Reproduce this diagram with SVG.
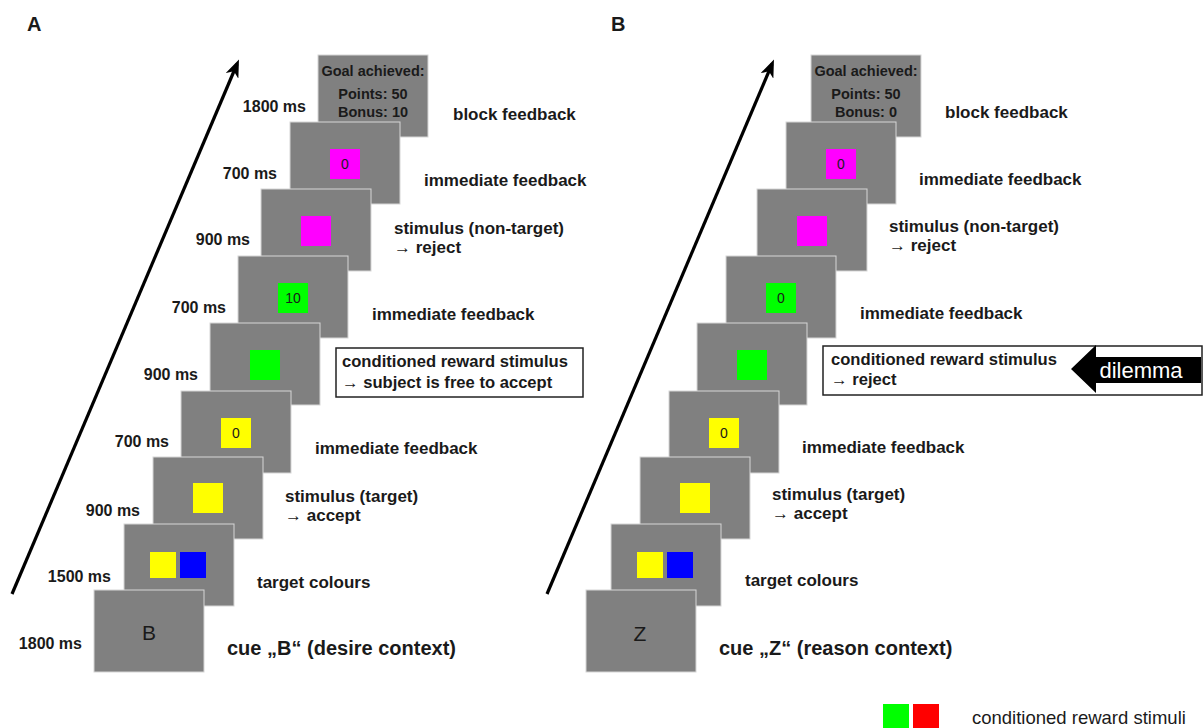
<svg xmlns="http://www.w3.org/2000/svg" width="1204" height="728" viewBox="0 0 1204 728">
<defs>
<style>
.fr{fill:#808080;stroke:#d6d6d6;stroke-width:1}
.t{font-family:"Liberation Sans",Arial,sans-serif;fill:#1a1a1a}
.ms{font-size:16px;font-weight:bold;text-anchor:end}
.lb{font-size:17px;font-weight:bold}
.bx{font-size:16.6px;font-weight:bold}
.cue{font-size:20px;font-weight:bold}
.num{font-size:14px;text-anchor:middle}
.goal{font-size:14.5px;font-weight:bold;text-anchor:middle}
.big{font-size:21px;text-anchor:middle}
.mg{fill:#ff00ff}.gr{fill:#00ff00}.ye{fill:#ffff00}.bl{fill:#0000ff}.rd{fill:#ff0000}
.box{fill:#fff;stroke:#222;stroke-width:1.5}
.tl{stroke:#000;stroke-width:3.2;fill:none;marker-end:url(#ah)}
</style>
<marker id="ah" viewBox="0 0 18 14" refX="13" refY="7" markerWidth="18" markerHeight="14" orient="auto" markerUnits="userSpaceOnUse">
<path d="M0,0 L18,7 L0,14 L5,7 z" fill="#000"/>
</marker>
</defs>
<rect width="1204" height="728" fill="#fff"/>

<text class="t" x="27" y="31" font-size="20" font-weight="bold">A</text>
<text class="t" x="611" y="31" font-size="20" font-weight="bold">B</text>

<g id="connectors">
<line class="tl" x1="12" y1="594" x2="237" y2="64"/>
<line class="tl" x1="547" y1="594" x2="772" y2="64"/>
</g>

<!-- Panel A -->
<g id="A1">
<rect class="fr" x="318" y="55" width="110" height="82"/>
<text class="t goal" x="373" y="76">Goal achieved:</text>
<text class="t goal" x="373" y="99">Points: 50</text>
<text class="t goal" x="373" y="117">Bonus: 10</text>
<text class="t ms" x="306" y="112">1800 ms</text>
<text class="t lb" x="453" y="120">block feedback</text>
</g>
<g id="A2">
<rect class="fr" x="290" y="122" width="110" height="82"/>
<rect class="mg" x="330" y="149" width="30" height="30"/>
<text class="t num" x="345" y="169">0</text>
<text class="t ms" x="277" y="179">700 ms</text>
<text class="t lb" x="424" y="186">immediate feedback</text>
</g>
<g id="A3">
<rect class="fr" x="261" y="189" width="110" height="82"/>
<rect class="mg" x="301" y="216" width="30" height="30"/>
<text class="t ms" x="250" y="245">900 ms</text>
<text class="t lb" x="394" y="234">stimulus (non-target)</text>
<text class="t lb" x="394" y="253">→ reject</text>
</g>
<g id="A4">
<rect class="fr" x="238" y="256" width="110" height="82"/>
<rect class="gr" x="278" y="283" width="30" height="30"/>
<text class="t num" x="293" y="303">10</text>
<text class="t ms" x="226" y="313">700 ms</text>
<text class="t lb" x="372" y="320">immediate feedback</text>
</g>
<g id="A5">
<rect class="fr" x="210" y="323" width="110" height="82"/>
<rect class="gr" x="250" y="350" width="30" height="30"/>
<text class="t ms" x="198" y="380">900 ms</text>
<rect class="box" x="336" y="348" width="247" height="49"/>
<text class="t bx" x="342" y="367">conditioned reward stimulus</text>
<text class="t bx" x="342" y="388">→ subject is free to accept</text>
</g>
<g id="A6">
<rect class="fr" x="181" y="391" width="110" height="82"/>
<rect class="ye" x="221" y="418" width="30" height="30"/>
<text class="t num" x="236" y="438">0</text>
<text class="t ms" x="169" y="447">700 ms</text>
<text class="t lb" x="315" y="454">immediate feedback</text>
</g>
<g id="A7">
<rect class="fr" x="153" y="457" width="110" height="82"/>
<rect class="ye" x="193" y="483" width="30" height="30"/>
<text class="t ms" x="140" y="516">900 ms</text>
<text class="t lb" x="285" y="502">stimulus (target)</text>
<text class="t lb" x="285" y="521">→ accept</text>
</g>
<g id="A8">
<rect class="fr" x="124" y="524" width="110" height="82"/>
<rect class="ye" x="150" y="552" width="26" height="26"/>
<rect class="bl" x="180" y="552" width="26" height="26"/>
<text class="t ms" x="111" y="582">1500 ms</text>
<text class="t lb" x="257" y="588">target colours</text>
</g>
<g id="A9">
<rect class="fr" x="94" y="590" width="110" height="82"/>
<text class="t big" x="149" y="640">B</text>
<text class="t ms" x="82" y="649">1800 ms</text>
<text class="t cue" x="227" y="655">cue „B“ (desire context)</text>
</g>

<!-- Panel B -->
<g id="B1">
<rect class="fr" x="811" y="55" width="110" height="82"/>
<text class="t goal" x="866" y="76">Goal achieved:</text>
<text class="t goal" x="866" y="99">Points: 50</text>
<text class="t goal" x="866" y="117">Bonus: 0</text>
<text class="t lb" x="945" y="118">block feedback</text>
</g>
<g id="B2">
<rect class="fr" x="786" y="122" width="110" height="82"/>
<rect class="mg" x="826" y="149" width="30" height="30"/>
<text class="t num" x="841" y="169">0</text>
<text class="t lb" x="919" y="185">immediate feedback</text>
</g>
<g id="B3">
<rect class="fr" x="757" y="189" width="110" height="82"/>
<rect class="mg" x="797" y="216" width="30" height="30"/>
<text class="t lb" x="889" y="232">stimulus (non-target)</text>
<text class="t lb" x="889" y="251">→ reject</text>
</g>
<g id="B4">
<rect class="fr" x="726" y="256" width="110" height="82"/>
<rect class="gr" x="766" y="283" width="30" height="30"/>
<text class="t num" x="781" y="303">0</text>
<text class="t lb" x="860" y="319">immediate feedback</text>
</g>
<g id="B5">
<rect class="fr" x="697" y="323" width="110" height="82"/>
<rect class="gr" x="737" y="350" width="30" height="30"/>
<rect class="box" x="823" y="346" width="379" height="49"/>
<text class="t bx" x="831" y="365">conditioned reward stimulus</text>
<text class="t bx" x="831" y="385">→ reject</text>
<polygon points="1071,369 1096,345 1096,357 1201,357 1201,383 1096,383 1096,393" fill="#000"/>
<text x="1141" y="378" font-family="'Liberation Sans',Arial,sans-serif" font-size="22" fill="#fff" text-anchor="middle">dilemma</text>
</g>
<g id="B6">
<rect class="fr" x="669" y="391" width="110" height="82"/>
<rect class="ye" x="709" y="418" width="30" height="30"/>
<text class="t num" x="724" y="438">0</text>
<text class="t lb" x="802" y="453">immediate feedback</text>
</g>
<g id="B7">
<rect class="fr" x="640" y="457" width="110" height="82"/>
<rect class="ye" x="680" y="483" width="30" height="30"/>
<text class="t lb" x="772" y="500">stimulus (target)</text>
<text class="t lb" x="772" y="519">→ accept</text>
</g>
<g id="B8">
<rect class="fr" x="611" y="524" width="110" height="82"/>
<rect class="ye" x="637" y="552" width="26" height="26"/>
<rect class="bl" x="667" y="552" width="26" height="26"/>
<text class="t lb" x="745" y="586">target colours</text>
</g>
<g id="B9">
<rect class="fr" x="586" y="590" width="110" height="82"/>
<text class="t big" x="640" y="641">Z</text>
<text class="t cue" x="719" y="655">cue „Z“ (reason context)</text>
</g>

<g id="legend">
<rect class="gr" x="883" y="704" width="26" height="24"/>
<rect class="rd" x="913" y="704" width="26" height="24"/>
<text class="t" x="972" y="724" font-size="18.5" fill="#222">conditioned reward stimuli</text>
</g>
</svg>
